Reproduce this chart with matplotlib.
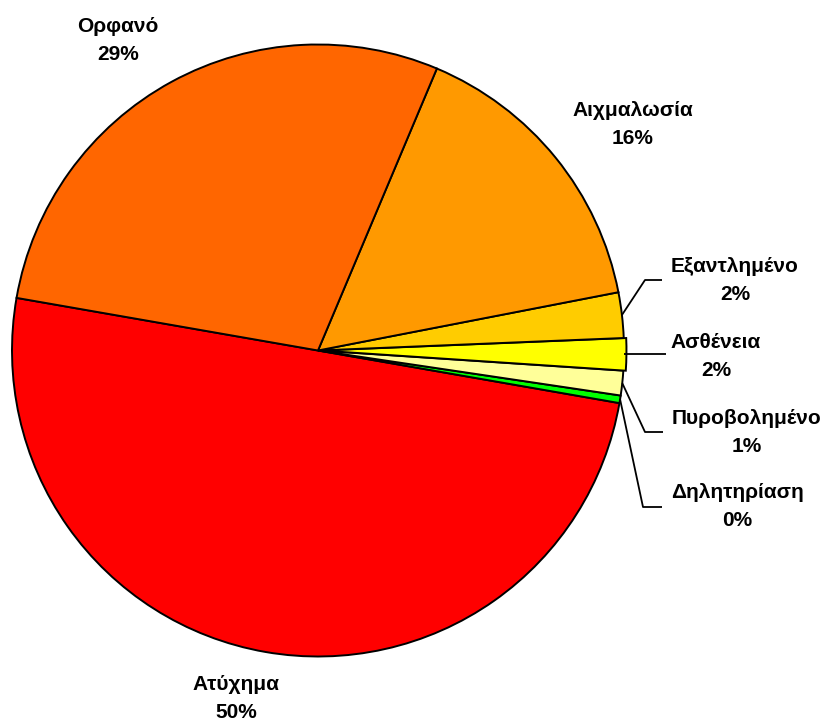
import matplotlib
matplotlib.use("Agg")
import matplotlib.pyplot as plt
import numpy as np

# order: counter-clockwise starting from the left side of the pie
categories = ["Ατύχημα", "Δηλητηρίαση", "Πυροβολημένο", "Ασθένεια",
              "Εξαντλημένο", "Αιχμαλωσία", "Ορφανό"]
percents = [50.0, 0.4, 1.3, 1.7, 2.4, 15.6, 28.6]
colors = ["#FF0000", "#00FF00", "#FFFF99", "#FFFF00",
          "#FFCC00", "#FF9900", "#FF6600"]
explode = [0, 0, 0, 0.008, 0, 0, 0]

W, H, DPI = 833, 722, 100
CX, CY, R = 318, 350.5, 306  # pie centre / radius in pixels


def px(x, y):
    # pixel position (from top-left) -> data units, pie radius = 1
    return (x - CX) / R, (CY - y) / R


# label block centres (pixels) and optional leader elbow (pixels)
label_pos = {
    "Ορφανό": ((118, 40), None),
    "Αιχμαλωσία": ((633, 124), None),
    "Εξαντλημένο": ((735, 280), ((645, 280), (662, 280))),
    "Ασθένεια": ((716, 357), ((666, 357),)),
    "Πυροβολημένο": ((747, 432), ((645, 432), (663, 432))),
    "Δηλητηρίαση": ((737, 507), ((643, 507), (662, 507))),
    "Ατύχημα": ((236, 699), None),
}


def Main():
    plt.rcParams["font.family"] = ["Liberation Sans", "DejaVu Sans"]
    fig = plt.figure(figsize=(W / DPI, H / DPI), dpi=DPI)
    ax = fig.add_axes([0, 0, 1, 1])

    wedges, _ = ax.pie(percents, colors=colors, startangle=170.1,
                       counterclock=True, radius=1.0, explode=explode,
                       wedgeprops=dict(edgecolor="black", linewidth=1.4))

    for w, name, val in zip(wedges, categories, percents):
        (tx, ty), leader = label_pos[name]
        x, y = px(tx, ty)
        ax.text(x, y, "%s\n%d%%" % (name, round(val)), ha="center", va="center",
                multialignment="center", fontsize=15, fontweight="bold",
                linespacing=1.6)
        if leader is not None:
            ang = np.deg2rad((w.theta1 + w.theta2) / 2)
            xs = [np.cos(ang)]
            ys = [np.sin(ang)]
            for lx, ly in leader:
                dx, dy = px(lx, ly)
                xs.append(dx)
                ys.append(dy if len(leader) > 1 else np.sin(ang))
            ax.plot(xs, ys, color="black", lw=1.3, solid_capstyle="butt")

    ax.set_xlim((0 - CX) / R, (W - CX) / R)
    ax.set_ylim((CY - H) / R, CY / R)
    ax.set_aspect("auto")
    ax.axis("off")
    fig.savefig("out.png", dpi=DPI, facecolor="white")


if __name__ == "__main__":
    Main()
